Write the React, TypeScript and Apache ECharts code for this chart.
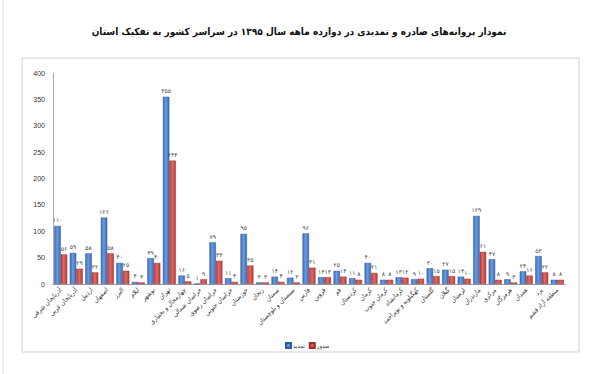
import React, { useEffect, useRef } from "react";
import * as echarts from "echarts";

const provinces = [
  "آذربایجان شرقی",
  "آذربایجان غربی",
  "اردبیل",
  "اصفهان",
  "البرز",
  "ایلام",
  "بوشهر",
  "تهران",
  "چهارمحال و بختیاری",
  "خراسان شمالی",
  "خراسان رضوی",
  "خراسان جنوبی",
  "خوزستان",
  "زنجان",
  "سمنان",
  "سیستان و بلوچستان",
  "فارس",
  "قزوین",
  "قم",
  "کردستان",
  "کرمان",
  "کرمان جنوب",
  "کرمانشاه",
  "کهگیلویه و بویراحمد",
  "گلستان",
  "گیلان",
  "لرستان",
  "مازندران",
  "مرکزی",
  "هرمزگان",
  "همدان",
  "یزد",
  "منطقه آزاد قشم",
];

const renewed = [110, 59, 58, 126, 40, 4, 49, 355, 16, 1, 79, 11, 95, 3, 14, 12, 96, 13, 25, 11, 40, 8, 13, 9, 30, 27, 14, 129, 47, 9, 24, 53, 8];
const issued = [56, 29, 22, 58, 25, 3, 40, 234, 5, 9, 44, 4, 35, 3, 4, 3, 31, 13, 14, 8, 21, 8, 12, 10, 15, 15, 10, 61, 8, 3, 16, 22, 8];

const seriesNames = ["تمدید", "صدور"];
const yTicks = { min: 0, max: 400, interval: 50 };
const titleText = "نمودار پروانه‌های صادره و تمدیدی در دوازده ماهه سال ۱۳۹۵ در سراسر کشور به تفکیک استان";

const fa = (v: number | string) => String(v).replace(/\d/g, (d) => "۰۱۲۳۴۵۶۷۸۹"[Number(d)]);

const FONT = "DejaVu Sans";
const FONT_C = "'DejaVu Sans Condensed', 'DejaVu Sans'";

export default function App() {
  const ref = useRef<HTMLDivElement>(null);
  useEffect(() => {
    if (!ref.current) return;
    const chart = echarts.init(ref.current, undefined, { renderer: "svg" });
    const grad = (c1: string, c2: string) =>
      new echarts.graphic.LinearGradient(0, 0, 1, 0, [
        { offset: 0, color: c1 },
        { offset: 0.45, color: c2 },
        { offset: 1, color: c1 },
      ]);
    const valueLabel = {
      show: true,
      position: "top",
      distance: 3,
      fontFamily: FONT,
      fontSize: 6,
      color: "#444",
      formatter: (p: any) => fa(p.value),
    };
    chart.setOption({
      animation: false,
      backgroundColor: "#fff",
      title: {
        text: titleText,
        left: 294,
        textAlign: "center",
        top: 21,
        textStyle: { fontFamily: FONT_C, fontSize: 10, fontWeight: "bold", color: "#111" },
      },
      graphic: [
        { type: "rect", shape: { x: 22, y: 58, width: 557, height: 294 }, style: { fill: "none", stroke: "#d0d0d0", lineWidth: 1 } },
        { type: "line", shape: { x1: 3, y1: 0, x2: 3, y2: 374 }, style: { stroke: "#e0e0e0", lineWidth: 1 } },
      ],
      legend: {
        data: seriesNames,
        left: 280,
        top: 337,
        itemWidth: 5,
        itemHeight: 5,
        itemGap: 4,
        icon: "rect",
        textStyle: { fontFamily: FONT_C, fontSize: 6, color: "#333", padding: [0, 0, 0, -3] },
      },
      grid: { left: 53, right: 35, top: 73, bottom: 90, containLabel: false },
      xAxis: {
        type: "category",
        data: provinces,
        axisLine: { lineStyle: { color: "#999" } },
        axisTick: { show: false },
        axisLabel: {
          interval: 0,
          rotate: 45,
          fontFamily: FONT_C,
          fontSize: 6.5,
          color: "#333",
          margin: 5,
        },
      },
      yAxis: {
        type: "value",
        ...yTicks,
        axisLine: { show: true, lineStyle: { color: "#aaa" } },
        axisTick: { show: false },
        splitLine: { show: false },
        axisLabel: { fontFamily: "Liberation Sans", fontSize: 7, color: "#333", margin: 8 },
      },
      series: [
        {
          name: seriesNames[0],
          type: "bar",
          data: renewed,
          barWidth: 6.5,
          barGap: "0%",
          itemStyle: { color: grad("#3a6db5", "#6b9be0"), borderColor: "#2f5d9e", borderWidth: 0.5 },
          label: valueLabel,
        },
        {
          name: seriesNames[1],
          type: "bar",
          data: issued,
          barWidth: 6.5,
          barGap: "0%",
          itemStyle: { color: grad("#b83c38", "#e06a66"), borderColor: "#9e302d", borderWidth: 0.5 },
          label: valueLabel,
        },
      ],
    });
    return () => chart.dispose();
  }, []);
  return <div ref={ref} style={{ position: "fixed", left: 0, top: 0, width: 600, height: 374 }} />;
}
